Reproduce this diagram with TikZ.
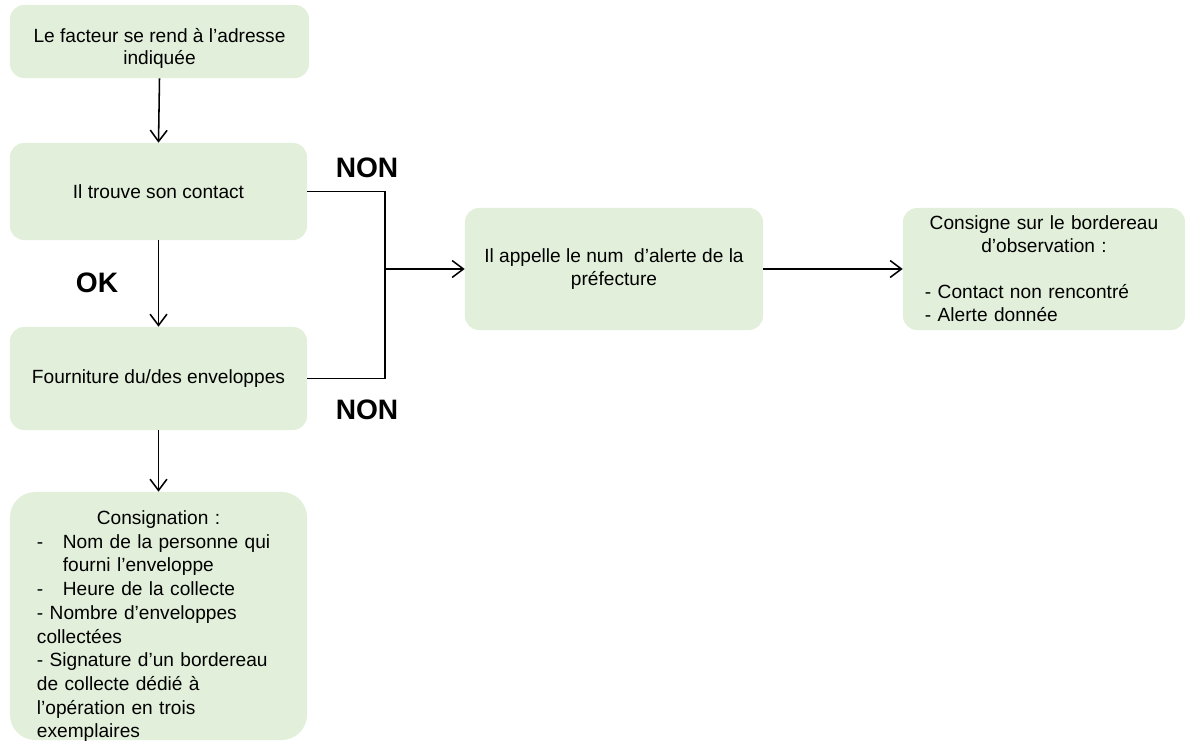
\documentclass[tikz,border=0pt]{standalone}
\usepackage{fontspec}
\setmainfont{Liberation Sans}
\usetikzlibrary{arrows.meta}
\definecolor{boxgreen}{RGB}{226,239,218}
\tikzset{
  stepbox/.style={draw=none, fill=boxgreen, rounded corners=10pt, inner sep=0pt, align=center,
    font=\fontsize{13.6}{15.8}\selectfont},
  conn/.style={line width=1.1pt, draw=black},
  arr/.style={conn, -{Straight Barb[length=8pt,width=12pt,line width=1.1pt]}},
  lbl/.style={font=\fontsize{20}{24}\selectfont\bfseries, inner sep=0pt}
}
\begin{document}
\begin{tikzpicture}[x=0.025cm,y=-0.025cm]
\useasboundingbox (0,0) rectangle (1189,743);
\node[stepbox, minimum width=7.475cm, minimum height=1.825cm, text height=38pt, text depth=5.2pt] (b1) at (159.5,41.5)
  {Le facteur se rend à l’adresse\\indiquée};
\node[stepbox, minimum width=7.425cm, minimum height=2.425cm] (b2) at (158.5,191.5)
  {Il trouve son contact};
\node[stepbox, minimum width=7.425cm, minimum height=2.575cm] (b3) at (158.5,378.5)
  {Fourniture du/des enveloppes};
\node[stepbox, rounded corners=18pt, minimum width=7.425cm, minimum height=6.2cm, text width=6.075cm, align=left,
  text height=20pt, text depth=150pt,
  font=\fontsize{13.6}{16.85}\selectfont] (b4) at (158.5,616)
  {\hfill Consignation :\hfill\mbox{}\\
   -\hspace{13.9pt}Nom de la personne qui\\
   \hspace{18.4pt}fourni l’enveloppe\\
   -\hspace{13.9pt}Heure de la collecte\\
   - Nombre d’enveloppes\\
   collectées\\
   - Signature d’un bordereau\\
   de collecte dédié à\\
   l’opération en trois\\
   exemplaires};
\node[stepbox, minimum width=7.45cm, minimum height=3.05cm] (b5) at (614,269)
  {Il appelle le num\ \ d’alerte de la\\préfecture};
\node[stepbox, minimum width=7.05cm, minimum height=3.05cm, text width=5.95cm, align=left,
  font=\fontsize{13.6}{16.3}\selectfont] (b6) at (1044,269)
  {\hfill Consigne sur le bordereau\hfill\mbox{}\\
   \hfill d’observation :\hfill\mbox{}\\[16.3pt]
   - Contact non rencontré\\
   - Alerte donnée};
\coordinate (j) at (385,269);
\node[lbl] (non1) at (367,168) {NON};
\node[lbl] (ok) at (97,283) {OK};
\node[lbl] (non2) at (367,410) {NON};
\draw[arr] (b1.south) -- (b2.north);
\draw[arr] (b2.south) -- (b3.north);
\draw[arr] (b3.south) -- (b4.north);
\draw[conn] (b2.east) -| (j) |- (b3.east);
\draw[arr] (j) -- (b5.west);
\draw[arr] (b5.east) -- (b6.west);
\end{tikzpicture}
\end{document}
